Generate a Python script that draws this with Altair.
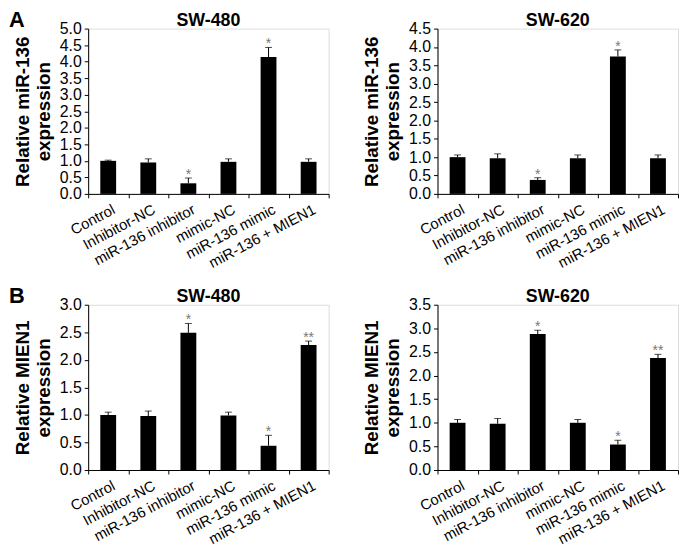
import altair as alt
import pandas as pd

categories = ["Control", "Inhibitor-NC", "miR-136 inhibitor", "mimic-NC",
              "miR-136 mimic", "miR-136 + MIEN1"]

# Panel A: relative miR-136 expression (mean and upper error)
a480_mean = [1.00, 0.95, 0.32, 0.97, 4.14, 0.97]
a480_err = [0.02, 0.11, 0.16, 0.09, 0.29, 0.09]
a620_mean = [1.00, 0.97, 0.38, 0.97, 3.74, 0.97]
a620_err = [0.06, 0.12, 0.06, 0.09, 0.18, 0.09]
a_sig = ["", "", "*", "", "*", ""]

# Panel B: relative MIEN1 expression
b480_mean = [1.00, 0.98, 2.49, 0.99, 0.44, 2.27]
b480_err = [0.05, 0.09, 0.17, 0.06, 0.19, 0.07]
b620_mean = [1.00, 0.98, 2.88, 1.00, 0.54, 2.37]
b620_err = [0.07, 0.11, 0.08, 0.07, 0.09, 0.08]
b_sig = ["", "", "*", "", "*", "**"]

FONT = "Liberation Sans"
W, H = 243, 167


def panel(means, errs, sig, ymax, title, ytitle, letter=None):
    df = pd.DataFrame({
        "cat": categories,
        "mean": means,
        "upper": [m + e for m, e in zip(means, errs)],
        "sig": sig,
    })
    ticks = [i * 0.5 for i in range(int(round(ymax / 0.5)) + 1)]
    xaxis = alt.Axis(title=None, labelAngle=332, labelAlign="right",
                     labelBaseline="top", tickBand="extent", tickSize=4,
                     labelPadding=4, labelOffset=2, labelFontSize=15,
                     labelFont=FONT, labelColor="black", domainColor="black",
                     tickColor="black", labelOverlap=False)
    yaxis = alt.Axis(title=ytitle, values=ticks, format=".1f", grid=False,
                     tickSize=4, labelPadding=3, labelFontSize=16,
                     labelOverlap=False, labelFont=FONT, labelColor="black",
                     domainColor="black", tickColor="black", titleFont=FONT,
                     titleFontSize=19, titleFontWeight="bold",
                     titleColor="black", titlePadding=6, titleLineHeight=21)
    xs = alt.Scale(paddingInner=0, paddingOuter=0)
    ys = alt.Scale(domain=[0, ymax], nice=False, zero=True)
    x = alt.X("cat:N", sort=categories, scale=xs, axis=xaxis)
    base = alt.Chart(df)
    bars = base.mark_bar(color="black", width=16).encode(
        x=x, y=alt.Y("mean:Q", scale=ys, axis=yaxis))
    rule = base.mark_rule(color="black", strokeWidth=1).encode(
        x=x, y=alt.Y("mean:Q", scale=ys, axis=yaxis), y2="upper:Q")
    cap = base.mark_tick(color="black", size=7, thickness=1,
                         orient="horizontal").encode(
        x=x, y=alt.Y("upper:Q", scale=ys, axis=yaxis))
    star = base.mark_text(color="#777777", fontSize=14, font=FONT,
                          baseline="alphabetic", dy=1).encode(
        x=x, y=alt.Y("upper:Q", scale=ys, axis=yaxis), text="sig:N")
    ttl = alt.Chart(pd.DataFrame({"t": [title]})).mark_text(
        fontSize=18, fontWeight="bold", font=FONT, color="black",
        align="center", baseline="alphabetic").encode(
        x=alt.value(W / 2), y=alt.value(-3), text="t:N")
    layers = [bars, rule, cap, star, ttl]
    if letter:
        lt = alt.Chart(pd.DataFrame({"t": [letter]})).mark_text(
            fontSize=22, fontWeight="bold", font=FONT, color="black",
            align="left", baseline="top").encode(
            x=alt.value(-80), y=alt.value(-19), text="t:N")
        layers.append(lt)
    return alt.layer(*layers).properties(width=W, height=H)


a1 = panel(a480_mean, a480_err, a_sig, 5.0, "SW-480",
           ["Relative miR-136", "expression"], "A")
a2 = panel(a620_mean, a620_err, a_sig, 4.5, "SW-620",
           ["Relative miR-136", "expression"])
b1 = panel(b480_mean, b480_err, b_sig, 3.0, "SW-480",
           ["Relative MIEN1", "expression"], "B")
b2 = panel(b620_mean, b620_err, b_sig, 3.5, "SW-620",
           ["Relative MIEN1", "expression"])

chart = alt.concat(
    a1, a2, b1, b2, columns=2,
    spacing=alt.RowColnumber(row=112, column=110),
    bounds="flush",
).properties(
    padding={"left": 0, "top": -3, "right": 0, "bottom": 0}
).configure_view(stroke=None).configure(background="white")

chart.save("out.html", embed_options={"renderer": "svg", "actions": False})
